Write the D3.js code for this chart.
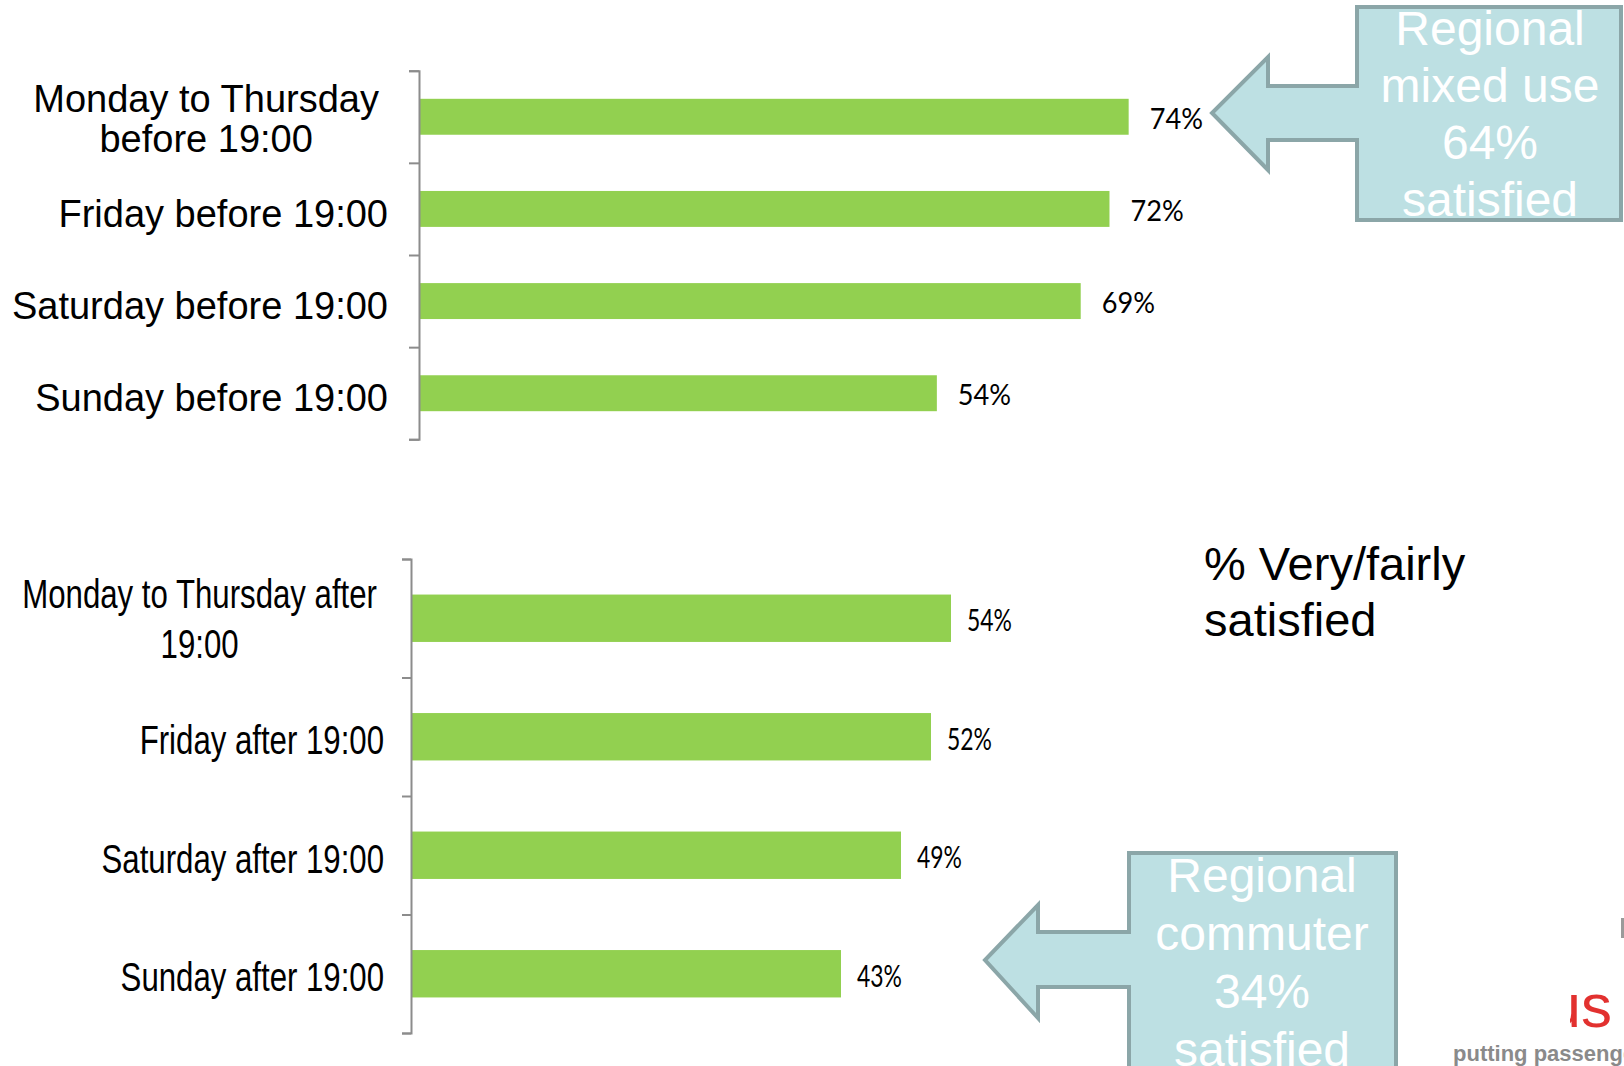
<!DOCTYPE html>
<html>
<head>
<meta charset="utf-8">
<script src="https://cdn.jsdelivr.net/npm/d3@7"></script>
<style>
  html, body { margin: 0; padding: 0; background: #ffffff; }
  svg { display: block; }
</style>
</head>
<body>
<svg id="chart" width="1624" height="1066"></svg>
<script>
// ---------- DATA ----------
const topCategories = ["Monday to Thursday\nbefore 19:00", "Friday before 19:00", "Saturday before 19:00", "Sunday before 19:00"];
const topValues = [74, 72, 69, 54];
const bottomCategories = ["Monday to Thursday after\n19:00", "Friday after 19:00", "Saturday after 19:00", "Sunday after 19:00"];
const bottomValues = [54, 52, 49, 43];
const valueDomain = [0, 100];
const subtitleLines = ["% Very/fairly", "satisfied"];
const callout1Lines = ["Regional", "mixed use", "64%", "satisfied"];
const callout2Lines = ["Regional", "commuter", "34%", "satisfied"];

// ---------- LAYOUT ----------
const svg = d3.select("#chart");
const W = 1624, H = 1066;
svg.append("rect").attr("width", W).attr("height", H).attr("fill", "#ffffff");

const BAR = "#92d050";
const AXIS = "#8c8c8c";

function drawPanel(cfg) {
  const n = cfg.categories.length;
  const data = cfg.categories.map((c, i) => ({ cat: c, val: cfg.values[i] }));
  const x = d3.scaleLinear().domain(valueDomain).range([cfg.axisX, cfg.axisX + 100 * cfg.pxPerPct]);
  const y = d3.scaleBand().domain(cfg.categories).range([cfg.y0, cfg.y1])
    .paddingInner(cfg.padInner).paddingOuter(cfg.padInner / 2);
  const idx = d3.scaleLinear().domain([0, n]).range([cfg.y0, cfg.y1]);

  const g = svg.append("g");

  // bars
  g.selectAll("rect.bar").data(data).join("rect")
    .attr("class", "bar")
    .attr("x", x(0))
    .attr("y", d => y(d.cat))
    .attr("width", d => x(d.val) - x(0))
    .attr("height", y.bandwidth())
    .attr("fill", BAR);

  // axis with boundary ticks
  const ax = g.append("g").attr("transform", `translate(${cfg.axisX},0)`)
    .call(d3.axisLeft(idx).tickValues(d3.range(n + 1)).tickSize(cfg.tick).tickSizeOuter(cfg.tick).tickFormat(""));
  ax.selectAll("path, line").attr("stroke", AXIS).attr("stroke-width", 2);

  // value labels
  data.forEach(d => {
    const cy = y(d.cat) + y.bandwidth() / 2;
    const lg = g.append("g").attr("transform", `translate(${x(d.val) + cfg.valGap},${cy + cfg.valShift}) scale(${cfg.valScale},1)`);
    lg.append("text")
      .attr("font-family", "Lato, 'Open Sans', sans-serif")
      .attr("font-size", cfg.valSize)
      .attr("fill", "#000")
      .attr("dy", "0.36em")
      .text(d.val + "%");
  });

  // category labels
  data.forEach(d => {
    const lines = d.cat.split("\n");
    const cy = y(d.cat) + y.bandwidth() / 2;
    const capH = cfg.catSize * 0.716;
    const shift = lines.length === 1 ? cfg.singleShift : cfg.multiShiftY;
    const firstBase = cy - (lines.length - 1) * cfg.lineH / 2 + capH / 2 + shift;
    const rightX = cfg.axisX - cfg.catGap;
    const lg = g.append("g");
    const t = lg.append("text")
      .attr("font-family", "'Liberation Sans', Arial, sans-serif")
      .attr("font-size", cfg.catSize)
      .attr("fill", "#000");
    lines.forEach((ln, i) => {
      t.append("tspan").attr("x", 0).attr("y", firstBase + i * cfg.lineH).text(ln);
    });
    if (lines.length === 1) {
      t.attr("text-anchor", "end");
      lg.attr("transform", `translate(${rightX},0) scale(${cfg.catScale},1)`);
    } else {
      t.attr("text-anchor", "middle");
      let maxW = 0;
      t.selectAll("tspan").each(function () {
        maxW = Math.max(maxW, this.getComputedTextLength());
      });
      const cx = rightX - maxW * cfg.catScale / 2 - cfg.multiShift;
      lg.attr("transform", `translate(${cx},0) scale(${cfg.catScale},1)`);
    }
  });
}

drawPanel({
  categories: topCategories, values: topValues,
  axisX: 419, y0: 70.7, y1: 439.3, pxPerPct: 9.59, padInner: 0.61, tick: 10,
  valGap: 21, valShift: 2, valSize: 28, valScale: 0.97,
  catSize: 38, catGap: 31, lineH: 40, catScale: 1, multiShift: 9,
  singleShift: 4, multiShiftY: 2
});

drawPanel({
  categories: bottomCategories, values: bottomValues,
  axisX: 411, y0: 559, y1: 1033, pxPerPct: 10.0, padInner: 0.6, tick: 9,
  valGap: 16, valShift: 2, valSize: 31, valScale: 0.74,
  catSize: 40.5, catGap: 27, lineH: 50, catScale: 0.77, multiShift: 7,
  singleShift: 3, multiShiftY: 0
});

// subtitle
const sub = svg.append("text")
  .attr("font-family", "'Liberation Sans', Arial, sans-serif")
  .attr("font-size", 47).attr("fill", "#000");
subtitleLines.forEach((ln, i) => sub.append("tspan").attr("x", 1204).attr("y", 580 + i * 56).text(ln));

// callouts (left-pointing arrow attached to a box)
function callout(c, lines) {
  const p = d3.path();
  p.moveTo(c.bx0, c.by0);
  p.lineTo(c.bx1, c.by0);
  p.lineTo(c.bx1, c.by1);
  p.lineTo(c.bx0, c.by1);
  p.lineTo(c.bx0, c.s1);
  p.lineTo(c.hx, c.s1);
  p.lineTo(c.hx, c.h1);
  p.lineTo(c.tipX, c.tipY);
  p.lineTo(c.hx, c.h0);
  p.lineTo(c.hx, c.s0);
  p.lineTo(c.bx0, c.s0);
  p.closePath();
  svg.append("path").attr("d", p.toString())
    .attr("fill", "#bde0e3").attr("stroke", "#8ba6a8").attr("stroke-width", 4)
    .attr("stroke-linejoin", "miter");
  const t = svg.append("text")
    .attr("font-family", "'Liberation Sans', Arial, sans-serif")
    .attr("font-size", c.fs).attr("fill", "#ffffff").attr("text-anchor", "middle");
  lines.forEach((ln, i) => t.append("tspan").attr("x", c.cx).attr("y", c.base + i * c.lh).text(ln));
}

callout({ bx0: 1357, bx1: 1621, by0: 7, by1: 220, s0: 86, s1: 140, hx: 1268, h0: 57, h1: 170,
  tipX: 1212, tipY: 113, cx: 1490, base: 45, lh: 57, fs: 48 }, callout1Lines);
callout({ bx0: 1129, bx1: 1396, by0: 853, by1: 1090, s0: 932, s1: 987, hx: 1038, h0: 905, h1: 1018,
  tipX: 985, tipY: 960, cx: 1262, base: 892, lh: 58, fs: 48 }, callout2Lines);

// logo fragment (bottom-right)
const clip = svg.append("defs").append("clipPath").attr("id", "logoClip");
clip.append("rect").attr("x", 1570).attr("y", 960).attr("width", 60).attr("height", 80);
svg.append("text").attr("clip-path", "url(#logoClip)")
  .attr("x", 1612).attr("y", 1027).attr("text-anchor", "end")
  .attr("font-family", "'Liberation Sans', Arial, sans-serif")
  .attr("font-size", 62).attr("fill", "#e2312f").text("us");
svg.append("text")
  .attr("x", 1453).attr("y", 1061)
  .attr("font-family", "'Liberation Sans', Arial, sans-serif").attr("font-weight", "bold")
  .attr("font-size", 22).attr("fill", "#8a8a8a").text("putting passengers first");
svg.append("rect").attr("x", 1621).attr("y", 918).attr("width", 3).attr("height", 20).attr("fill", "#9a9a9a");
</script>
</body>
</html>
